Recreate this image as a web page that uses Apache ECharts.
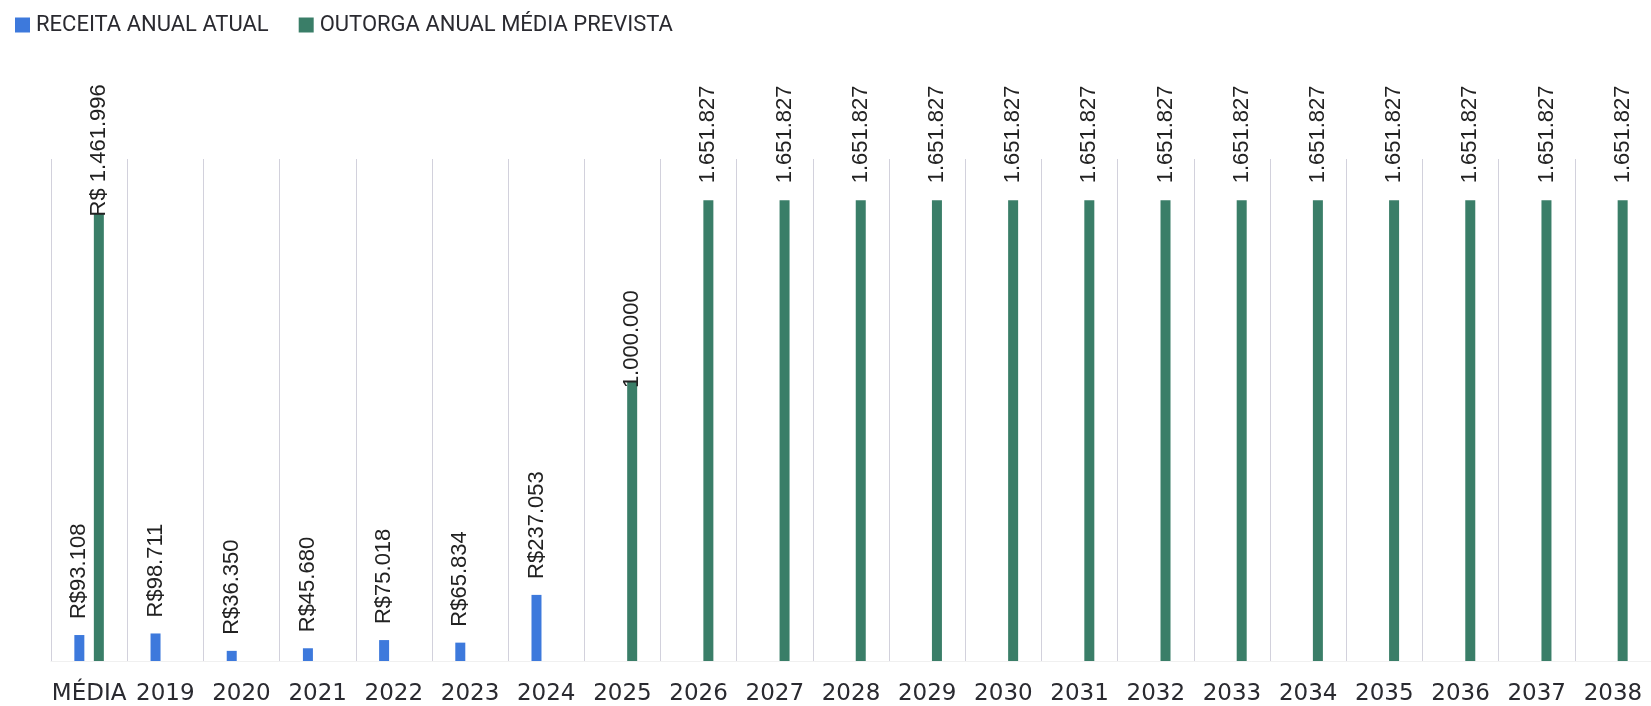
<!DOCTYPE html>
<html>
<head>
<meta charset="utf-8">
<script src="https://cdn.jsdelivr.net/npm/echarts@6/dist/echarts.min.js"></script>
<style>
html,body{margin:0;padding:0;background:#fff;}
#chart{width:1651px;height:706px;}
</style>
</head>
<body>
<div id="chart"></div>
<script>
var categories = ['MÉDIA','2019','2020','2021','2022','2023','2024','2025','2026','2027','2028','2029','2030','2031','2032','2033','2034','2035','2036','2037','2038'];
var receitaValues = [93108, 98711, 36350, 45680, 75018, 65834, 237053, null, null, null, null, null, null, null, null, null, null, null, null, null, null];
var receitaLabels = ['R$93.108','R$98.711','R$36.350','R$45.680','R$75.018','R$65.834','R$237.053','','','','','','','','','','','','','',''];
var outorgaValues = [1605000, null, null, null, null, null, null, 1000000, 1651827, 1651827, 1651827, 1651827, 1651827, 1651827, 1651827, 1651827, 1651827, 1651827, 1651827, 1651827, 1651827];
var outorgaLabels = ['R$ 1.461.996','','','','','','','1.000.000','1.651.827','1.651.827','1.651.827','1.651.827','1.651.827','1.651.827','1.651.827','1.651.827','1.651.827','1.651.827','1.651.827','1.651.827','1.651.827'];
var seriesNames = ['RECEITA ANUAL ATUAL', 'OUTORGA ANUAL MÉDIA PREVISTA'];

var labelFont = {fontFamily: 'Liberation Sans, Arial, sans-serif', fontSize: 22, color: '#222'};

function buildData(values, overrides) {
  return values.map(function (v, i) {
    var item = {value: v};
    if (overrides && overrides[i] !== undefined) item.label = {distance: overrides[i]};
    return item;
  });
}

var chart = echarts.init(document.getElementById('chart'), null, {renderer: 'canvas'});
chart.setOption({
  animation: false,
  backgroundColor: '#ffffff',
  legend: {
    left: 15, top: 14, padding: 0,
    itemWidth: 15, itemHeight: 15, itemGap: 30,
    icon: 'rect',
    textStyle: {fontFamily: 'Roboto, sans-serif', fontSize: 22, color: '#2a2a30', padding: [0,0,0,1]},
    data: seriesNames
  },
  grid: {left: 51, right: 0, top: 159, bottom: 44, containLabel: false},
  xAxis: {
    type: 'category',
    data: categories,
    axisLine: {show: true, lineStyle: {color: '#f0f0f0'}},
    axisTick: {show: false},
    axisLabel: {fontFamily: 'DejaVu Sans, sans-serif', fontSize: 23, color: '#2a2a30', margin: 22, interval: 0},
    splitLine: {show: true, lineStyle: {color: '#d2d1dc', width: 1}}
  },
  yAxis: {
    type: 'value', min: 0, max: 1800000, show: false,
    splitLine: {show: false}
  },
  series: [
    {
      name: seriesNames[0], type: 'bar', barWidth: 10, barGap: '95%',
      itemStyle: {color: '#3d79dc'},
      data: buildData(receitaValues),
      label: Object.assign({
        show: true, position: 'top', rotate: 90, align: 'left', verticalAlign: 'middle', distance: 16,
        formatter: function (p) { return receitaLabels[p.dataIndex]; }
      }, labelFont)
    },
    {
      name: seriesNames[1], type: 'bar', barWidth: 10,
      itemStyle: {color: '#3a7e68'},
      data: buildData(outorgaValues, {0: -3, 7: -6}),
      label: Object.assign({
        show: true, position: 'top', rotate: 90, align: 'left', verticalAlign: 'middle', distance: 17,
        formatter: function (p) { return outorgaLabels[p.dataIndex]; }
      }, labelFont)
    }
  ]
});
</script>
</body>
</html>
